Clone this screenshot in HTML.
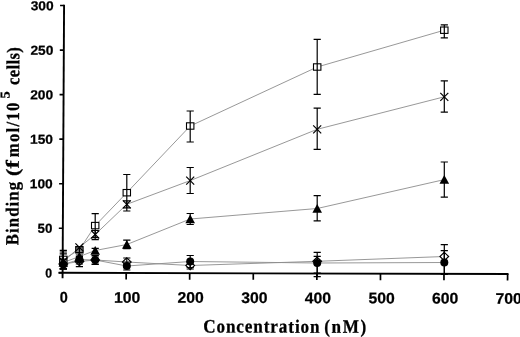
<!DOCTYPE html>
<html><head><meta charset="utf-8"><title>Binding vs Concentration</title>
<style>html,body{margin:0;padding:0;background:#fff}body{width:520px;height:337px;overflow:hidden;position:relative}</style></head>
<body>
<svg width="520" height="337" viewBox="0 0 520 337" style="position:absolute;left:0;top:0;display:block">
<rect width="520" height="337" fill="#fff"/>
<polyline points="63.3,259.4 79.4,249.8 95.2,225.6 126.8,192.7 190.2,126.0 317.2,67.0 444.3,30.2" fill="none" stroke="#8c8c8c" stroke-width="0.9"/>
<polyline points="63.3,261.5 79.4,247.3 95.2,234.5 126.8,204.3 190.2,180.6 317.2,129.3 444.3,96.8" fill="none" stroke="#8c8c8c" stroke-width="0.9"/>
<polyline points="63.3,262.5 79.4,256.5 95.2,250.5 126.8,244.5 190.2,219.0 317.2,208.5 444.3,179.6" fill="none" stroke="#8c8c8c" stroke-width="0.9"/>
<polyline points="63.3,264.0 79.4,261.5 95.2,260.0 126.8,262.0 190.2,265.5 317.2,261.3 444.3,256.5" fill="none" stroke="#8c8c8c" stroke-width="0.9"/>
<polyline points="63.3,264.5 79.4,259.5 95.2,260.0 126.8,266.0 190.2,261.5 317.2,263.0 444.3,262.5" fill="none" stroke="#8c8c8c" stroke-width="0.9"/>
<rect x="59.6" y="256.2" width="7.4" height="6.4" fill="#fff" stroke="#000" stroke-width="1.1"/>
<path d="M59.3 257.5L67.3 265.5M59.3 265.5L67.3 257.5" stroke="#000" stroke-width="1.2" fill="none"/>
<path d="M63.3 257.9L68.1 266.7L58.5 266.7Z" fill="#000"/>
<path d="M63.3 259.8L67.7 264.0L63.3 268.2L58.9 264.0Z" fill="#fff" stroke="#000" stroke-width="1.1"/>
<circle cx="63.3" cy="264.5" r="4" fill="#000"/>
<rect x="75.7" y="246.6" width="7.4" height="6.4" fill="#fff" stroke="#000" stroke-width="1.1"/>
<path d="M75.4 243.3L83.4 251.3M75.4 251.3L83.4 243.3" stroke="#000" stroke-width="1.2" fill="none"/>
<path d="M79.4 251.9L84.2 260.7L74.6 260.7Z" fill="#000"/>
<path d="M79.4 257.3L83.8 261.5L79.4 265.7L75.0 261.5Z" fill="#fff" stroke="#000" stroke-width="1.1"/>
<circle cx="79.4" cy="259.5" r="4" fill="#000"/>
<rect x="91.5" y="222.4" width="7.4" height="6.4" fill="#fff" stroke="#000" stroke-width="1.1"/>
<path d="M91.2 230.5L99.2 238.5M91.2 238.5L99.2 230.5" stroke="#000" stroke-width="1.2" fill="none"/>
<path d="M95.2 245.9L100.0 254.7L90.4 254.7Z" fill="#000"/>
<path d="M95.2 255.8L99.6 260.0L95.2 264.2L90.8 260.0Z" fill="#fff" stroke="#000" stroke-width="1.1"/>
<circle cx="95.2" cy="260.0" r="4" fill="#000"/>
<rect x="123.1" y="189.5" width="7.4" height="6.4" fill="#fff" stroke="#000" stroke-width="1.1"/>
<path d="M122.8 200.3L130.8 208.3M122.8 208.3L130.8 200.3" stroke="#000" stroke-width="1.2" fill="none"/>
<path d="M126.8 239.9L131.6 248.7L122.0 248.7Z" fill="#000"/>
<path d="M126.8 257.8L131.2 262.0L126.8 266.2L122.4 262.0Z" fill="#fff" stroke="#000" stroke-width="1.1"/>
<circle cx="126.8" cy="266.0" r="4" fill="#000"/>
<rect x="186.5" y="122.8" width="7.4" height="6.4" fill="#fff" stroke="#000" stroke-width="1.1"/>
<path d="M186.2 176.6L194.2 184.6M186.2 184.6L194.2 176.6" stroke="#000" stroke-width="1.2" fill="none"/>
<path d="M190.2 214.4L195.0 223.2L185.4 223.2Z" fill="#000"/>
<path d="M190.2 261.3L194.6 265.5L190.2 269.7L185.8 265.5Z" fill="#fff" stroke="#000" stroke-width="1.1"/>
<circle cx="190.2" cy="261.5" r="4" fill="#000"/>
<rect x="313.5" y="63.8" width="7.4" height="6.4" fill="#fff" stroke="#000" stroke-width="1.1"/>
<path d="M313.2 125.3L321.2 133.3M313.2 133.3L321.2 125.3" stroke="#000" stroke-width="1.2" fill="none"/>
<path d="M317.2 203.9L322.0 212.7L312.4 212.7Z" fill="#000"/>
<path d="M317.2 257.1L321.6 261.3L317.2 265.5L312.8 261.3Z" fill="#fff" stroke="#000" stroke-width="1.1"/>
<circle cx="317.2" cy="263.0" r="4" fill="#000"/>
<rect x="440.6" y="27.0" width="7.4" height="6.4" fill="#fff" stroke="#000" stroke-width="1.1"/>
<path d="M440.3 92.8L448.3 100.8M440.3 100.8L448.3 92.8" stroke="#000" stroke-width="1.2" fill="none"/>
<path d="M444.3 175.0L449.1 183.8L439.5 183.8Z" fill="#000"/>
<path d="M444.3 252.3L448.7 256.5L444.3 260.7L439.9 256.5Z" fill="#fff" stroke="#000" stroke-width="1.1"/>
<circle cx="444.3" cy="262.5" r="4" fill="#000"/>
<path d="M63.3 250.3V268.5M59.7 250.3H66.9M59.7 268.5H66.9" stroke="#000" stroke-width="1.2" fill="none"/>
<path d="M79.4 248.0V252.5M75.8 248.0H83.0M75.8 252.5H83.0" stroke="#000" stroke-width="1.2" fill="none"/>
<path d="M95.2 213.7V237.6M91.6 213.7H98.8M91.6 237.6H98.8" stroke="#000" stroke-width="1.2" fill="none"/>
<path d="M126.8 174.5V211.0M123.2 174.5H130.4M123.2 211.0H130.4" stroke="#000" stroke-width="1.2" fill="none"/>
<path d="M190.2 111.0V142.0M186.6 111.0H193.8M186.6 142.0H193.8" stroke="#000" stroke-width="1.2" fill="none"/>
<path d="M317.2 39.4V94.4M313.6 39.4H320.8M313.6 94.4H320.8" stroke="#000" stroke-width="1.2" fill="none"/>
<path d="M444.3 24.8V37.8M440.7 24.8H447.9M440.7 37.8H447.9" stroke="#000" stroke-width="1.2" fill="none"/>
<path d="M63.3 252.0V269.0M59.7 252.0H66.9M59.7 269.0H66.9" stroke="#000" stroke-width="1.2" fill="none"/>
<path d="M79.4 246.7V250.0M75.8 246.7H83.0M75.8 250.0H83.0" stroke="#000" stroke-width="1.2" fill="none"/>
<path d="M95.2 230.5V239.7M91.6 230.5H98.8M91.6 239.7H98.8" stroke="#000" stroke-width="1.2" fill="none"/>
<path d="M126.8 200.8V207.8M123.2 200.8H130.4M123.2 207.8H130.4" stroke="#000" stroke-width="1.2" fill="none"/>
<path d="M190.2 167.5V193.5M186.6 167.5H193.8M186.6 193.5H193.8" stroke="#000" stroke-width="1.2" fill="none"/>
<path d="M317.2 108.1V149.4M313.6 108.1H320.8M313.6 149.4H320.8" stroke="#000" stroke-width="1.2" fill="none"/>
<path d="M444.3 80.8V112.2M440.7 80.8H447.9M440.7 112.2H447.9" stroke="#000" stroke-width="1.2" fill="none"/>
<path d="M63.3 253.8V269.0M59.7 253.8H66.9M59.7 269.0H66.9" stroke="#000" stroke-width="1.2" fill="none"/>
<path d="M79.4 252.0V261.0M75.8 252.0H83.0M75.8 261.0H83.0" stroke="#000" stroke-width="1.2" fill="none"/>
<path d="M95.2 248.3V253.5M91.6 248.3H98.8M91.6 253.5H98.8" stroke="#000" stroke-width="1.2" fill="none"/>
<path d="M126.8 240.2V248.6M123.2 240.2H130.4M123.2 248.6H130.4" stroke="#000" stroke-width="1.2" fill="none"/>
<path d="M190.2 213.5V224.5M186.6 213.5H193.8M186.6 224.5H193.8" stroke="#000" stroke-width="1.2" fill="none"/>
<path d="M317.2 195.6V220.9M313.6 195.6H320.8M313.6 220.9H320.8" stroke="#000" stroke-width="1.2" fill="none"/>
<path d="M444.3 162.0V197.2M440.7 162.0H447.9M440.7 197.2H447.9" stroke="#000" stroke-width="1.2" fill="none"/>
<path d="M63.3 259.0V269.0M59.7 259.0H66.9M59.7 269.0H66.9" stroke="#000" stroke-width="1.2" fill="none"/>
<path d="M79.4 256.5V266.6M75.8 256.5H83.0M75.8 266.6H83.0" stroke="#000" stroke-width="1.2" fill="none"/>
<path d="M95.2 256.0V264.0M91.6 256.0H98.8M91.6 264.0H98.8" stroke="#000" stroke-width="1.2" fill="none"/>
<path d="M126.8 258.0V266.0M123.2 258.0H130.4M123.2 266.0H130.4" stroke="#000" stroke-width="1.2" fill="none"/>
<path d="M190.2 262.0V269.0M186.6 262.0H193.8M186.6 269.0H193.8" stroke="#000" stroke-width="1.2" fill="none"/>
<path d="M317.2 252.3V273.0M313.6 252.3H320.8M313.6 273.0H320.8" stroke="#000" stroke-width="1.2" fill="none"/>
<path d="M444.3 244.7V273.5M440.7 244.7H447.9M440.7 273.5H447.9" stroke="#000" stroke-width="1.2" fill="none"/>
<path d="M63.3 260.0V269.0M59.7 260.0H66.9M59.7 269.0H66.9" stroke="#000" stroke-width="1.2" fill="none"/>
<path d="M79.4 255.0V264.0M75.8 255.0H83.0M75.8 264.0H83.0" stroke="#000" stroke-width="1.2" fill="none"/>
<path d="M95.2 255.5V264.5M91.6 255.5H98.8M91.6 264.5H98.8" stroke="#000" stroke-width="1.2" fill="none"/>
<path d="M126.8 262.0V270.0M123.2 262.0H130.4M123.2 270.0H130.4" stroke="#000" stroke-width="1.2" fill="none"/>
<path d="M190.2 255.5V267.5M186.6 255.5H193.8M186.6 267.5H193.8" stroke="#000" stroke-width="1.2" fill="none"/>
<path d="M317.2 256.3V276.7M313.6 256.3H320.8M313.6 276.7H320.8" stroke="#000" stroke-width="1.2" fill="none"/>
<path d="M444.3 250.6V274.4M440.7 250.6H447.9M440.7 274.4H447.9" stroke="#000" stroke-width="1.2" fill="none"/>
<g transform="matrix(1 0.0027 -0.0055 1 0.605 -0.85)">
<path d="M63.5 5.4V279" stroke="#000" stroke-width="1.9" fill="none"/>
<path d="M59.5 273.5H509.4" stroke="#000" stroke-width="1.9" fill="none"/>
<path d="M59.5 273.5H63.5" stroke="#000" stroke-width="1.6"/>
<path d="M59.5 228.9H63.5" stroke="#000" stroke-width="1.6"/>
<path d="M59.5 184.4H63.5" stroke="#000" stroke-width="1.6"/>
<path d="M59.5 139.8H63.5" stroke="#000" stroke-width="1.6"/>
<path d="M59.5 95.3H63.5" stroke="#000" stroke-width="1.6"/>
<path d="M59.5 50.8H63.5" stroke="#000" stroke-width="1.6"/>
<path d="M59.5 6.2H63.5" stroke="#000" stroke-width="1.6"/>
<path d="M127.1 273.5V280" stroke="#000" stroke-width="1.7"/>
<path d="M190.6 273.5V280" stroke="#000" stroke-width="1.7"/>
<path d="M254.2 273.5V280" stroke="#000" stroke-width="1.7"/>
<path d="M317.8 273.5V280" stroke="#000" stroke-width="1.7"/>
<path d="M381.4 273.5V280" stroke="#000" stroke-width="1.7"/>
<path d="M444.9 273.5V280" stroke="#000" stroke-width="1.7"/>
<path d="M508.5 273.5V280" stroke="#000" stroke-width="1.7"/>
<text x="53.1" y="278.2" text-anchor="end" font-family="Liberation Sans, Arial, sans-serif" font-weight="bold" stroke="#000" stroke-width="0.25" font-size="13" textLength="6.8" lengthAdjust="spacingAndGlyphs">0</text>
<text x="53.1" y="233.6" text-anchor="end" font-family="Liberation Sans, Arial, sans-serif" font-weight="bold" stroke="#000" stroke-width="0.25" font-size="13" textLength="14.8" lengthAdjust="spacingAndGlyphs">50</text>
<text x="53.1" y="189.1" text-anchor="end" font-family="Liberation Sans, Arial, sans-serif" font-weight="bold" stroke="#000" stroke-width="0.25" font-size="13" textLength="22.9" lengthAdjust="spacingAndGlyphs">100</text>
<text x="53.1" y="144.5" text-anchor="end" font-family="Liberation Sans, Arial, sans-serif" font-weight="bold" stroke="#000" stroke-width="0.25" font-size="13" textLength="22.9" lengthAdjust="spacingAndGlyphs">150</text>
<text x="53.1" y="100.0" text-anchor="end" font-family="Liberation Sans, Arial, sans-serif" font-weight="bold" stroke="#000" stroke-width="0.25" font-size="13" textLength="22.9" lengthAdjust="spacingAndGlyphs">200</text>
<text x="53.1" y="55.5" text-anchor="end" font-family="Liberation Sans, Arial, sans-serif" font-weight="bold" stroke="#000" stroke-width="0.25" font-size="13" textLength="22.9" lengthAdjust="spacingAndGlyphs">250</text>
<text x="53.1" y="10.9" text-anchor="end" font-family="Liberation Sans, Arial, sans-serif" font-weight="bold" stroke="#000" stroke-width="0.25" font-size="13" textLength="22.9" lengthAdjust="spacingAndGlyphs">300</text>
<text x="64.7" y="303.2" text-anchor="middle" font-family="Liberation Sans, Arial, sans-serif" font-weight="bold" stroke="#000" stroke-width="0.25" font-size="15.4" textLength="8.0" lengthAdjust="spacingAndGlyphs">0</text>
<text x="128.3" y="303.2" text-anchor="middle" font-family="Liberation Sans, Arial, sans-serif" font-weight="bold" stroke="#000" stroke-width="0.25" font-size="15.4" textLength="26.2" lengthAdjust="spacingAndGlyphs">100</text>
<text x="191.8" y="303.2" text-anchor="middle" font-family="Liberation Sans, Arial, sans-serif" font-weight="bold" stroke="#000" stroke-width="0.25" font-size="15.4" textLength="26.2" lengthAdjust="spacingAndGlyphs">200</text>
<text x="255.4" y="303.2" text-anchor="middle" font-family="Liberation Sans, Arial, sans-serif" font-weight="bold" stroke="#000" stroke-width="0.25" font-size="15.4" textLength="26.2" lengthAdjust="spacingAndGlyphs">300</text>
<text x="319.0" y="303.2" text-anchor="middle" font-family="Liberation Sans, Arial, sans-serif" font-weight="bold" stroke="#000" stroke-width="0.25" font-size="15.4" textLength="26.2" lengthAdjust="spacingAndGlyphs">400</text>
<text x="382.6" y="303.2" text-anchor="middle" font-family="Liberation Sans, Arial, sans-serif" font-weight="bold" stroke="#000" stroke-width="0.25" font-size="15.4" textLength="26.2" lengthAdjust="spacingAndGlyphs">500</text>
<text x="446.1" y="303.2" text-anchor="middle" font-family="Liberation Sans, Arial, sans-serif" font-weight="bold" stroke="#000" stroke-width="0.25" font-size="15.4" textLength="26.2" lengthAdjust="spacingAndGlyphs">600</text>
<text x="509.7" y="303.2" text-anchor="middle" font-family="Liberation Sans, Arial, sans-serif" font-weight="bold" stroke="#000" stroke-width="0.25" font-size="15.4" textLength="26.2" lengthAdjust="spacingAndGlyphs">700</text>
<text transform="translate(204.4 332.7) scale(0.9 1)" x="0" y="0" font-family="Liberation Serif, Times New Roman, serif" font-weight="bold" stroke="#000" stroke-width="0.3" font-size="19" textLength="129.3" lengthAdjust="spacing">Concentration</text>
<text transform="translate(325.4 332.7) scale(0.9 1)" x="0" y="0" font-family="Liberation Serif, Times New Roman, serif" font-weight="bold" stroke="#000" stroke-width="0.3" font-size="19" textLength="46.7" lengthAdjust="spacing">(nM)</text>
<g transform="translate(19.1 0) rotate(-90)">
<text transform="translate(-246.0 0.0) scale(0.9 1)" x="0" y="0" font-family="Liberation Serif, Times New Roman, serif" font-weight="bold" stroke="#000" stroke-width="0.3" font-size="18.5" textLength="70.3" lengthAdjust="spacing">Binding</text>
<text x="-176.9" y="0.0" font-family="Liberation Serif, Times New Roman, serif" font-weight="bold" stroke="#000" stroke-width="0.3" font-size="18.5" textLength="7.2" lengthAdjust="spacingAndGlyphs">(</text>
<text x="-169.3" y="0.0" font-family="Liberation Serif, Times New Roman, serif" font-weight="bold" stroke="#000" stroke-width="0.3" font-size="18.5" textLength="8.2" lengthAdjust="spacingAndGlyphs">f</text>
<text transform="translate(-158.0 0.0) scale(0.9 1)" x="0" y="0" font-family="Liberation Serif, Times New Roman, serif" font-weight="bold" stroke="#000" stroke-width="0.3" font-size="18.5" textLength="60.7" lengthAdjust="spacing">mol/10</text>
<text x="-99.3" y="-9.6" font-family="Liberation Serif, Times New Roman, serif" font-weight="bold" stroke="#000" stroke-width="0.3" font-size="13.5" textLength="7.2" lengthAdjust="spacingAndGlyphs">5</text>
<text transform="translate(-85.7 0.0) scale(0.9 1)" x="0" y="0" font-family="Liberation Serif, Times New Roman, serif" font-weight="bold" stroke="#000" stroke-width="0.3" font-size="18.5" textLength="41.8" lengthAdjust="spacing">cells)</text>
</g>
</g>
</svg>
</body></html>
